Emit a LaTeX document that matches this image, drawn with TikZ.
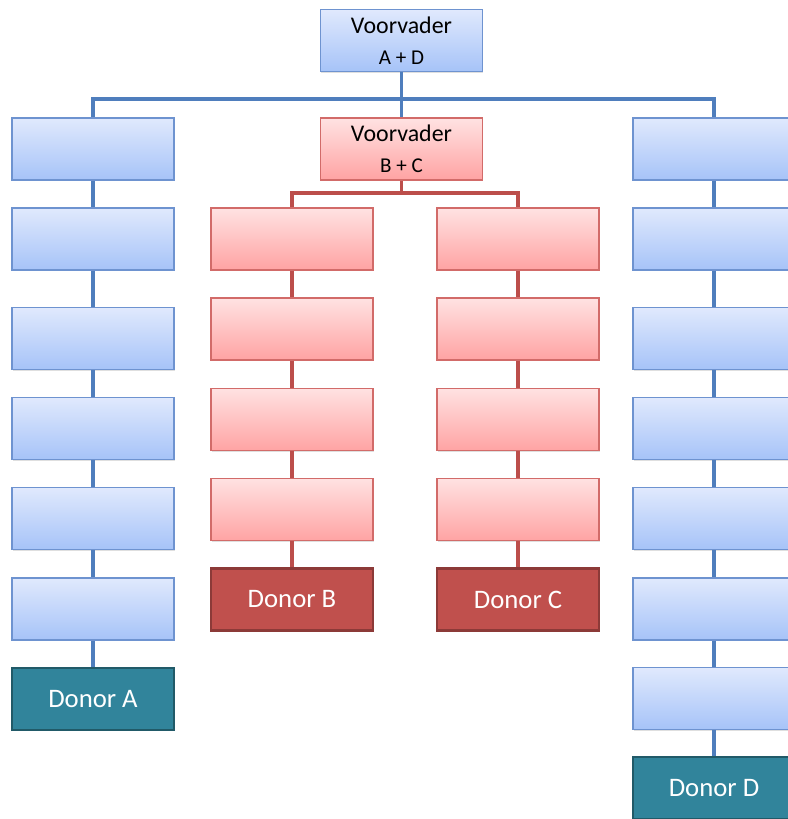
\documentclass[tikz,border=0pt]{standalone}
\usepackage{fontspec}
\setmainfont{Carlito}
\usetikzlibrary{positioning,shadows}

\definecolor{blueline}{HTML}{4F7EBD}
\definecolor{blueedge}{HTML}{6E93D0}
\definecolor{bluetop}{HTML}{E0E9FD}
\definecolor{bluebot}{HTML}{A6C3F8}
\definecolor{redline}{HTML}{BC4E4B}
\definecolor{rededge}{HTML}{D26B69}
\definecolor{redtop}{HTML}{FFE2E2}
\definecolor{redbot}{HTML}{FFA3A3}
\definecolor{donorred}{HTML}{C0504D}
\definecolor{donorrededge}{HTML}{8C3A38}
\definecolor{donorteal}{HTML}{31849B}
\definecolor{donortealedge}{HTML}{215A68}

\begin{document}
\begin{tikzpicture}[x=0.025cm, y=-0.025cm,
  every node/.style={align=center, inner sep=0pt, minimum width=4.05cm, minimum height=1.55cm,
    drop shadow={opacity=0.25, shadow xshift=0.6pt, shadow yshift=-0.8pt}},
  bluebox/.style={draw=blueedge, line width=1.3pt, top color=bluetop, bottom color=bluebot},
  redbox/.style={draw=rededge, line width=1.3pt, top color=redtop, bottom color=redbot},
  donorB/.style={draw=donorrededge, line width=1.5pt, fill=donorred, text=white, font=\fontsize{19}{22}\selectfont},
  donorT/.style={draw=donortealedge, line width=1.5pt, fill=donorteal, text=white, font=\fontsize{19}{22}\selectfont},
  blink/.style={draw=blueline, line width=2.4pt},
  rlink/.style={draw=redline, line width=2.4pt}]
  \useasboundingbox (0,0) rectangle (787,819);

  % Ancestors
  \node[bluebox] (ad) at (401.5,40.5) {\fontsize{17}{20}\selectfont Voorvader\\[10pt]\fontsize{15}{18}\selectfont A + D};
  \node[redbox]  (bc) at (401.5,149)  {\fontsize{17}{20}\selectfont Voorvader\\[10pt]\fontsize{15}{18}\selectfont B + C};

  % Line to donor A
  \node[bluebox] (a1) at (93,149)   {};
  \node[bluebox] (a2) at (93,239)   {};
  \node[bluebox] (a3) at (93,338.5) {};
  \node[bluebox] (a4) at (93,428.5) {};
  \node[bluebox] (a5) at (93,518.5) {};
  \node[bluebox] (a6) at (93,609)   {};
  \node[donorT]  (donA) at (93,699) {Donor A};

  % Line to donor B
  \node[redbox] (b1) at (292,239)   {};
  \node[redbox] (b2) at (292,329)   {};
  \node[redbox] (b3) at (292,419.5) {};
  \node[redbox] (b4) at (292,509.5) {};
  \node[donorB] (donB) at (292,599.5) {Donor B};

  % Line to donor C
  \node[redbox] (c1) at (518,239)   {};
  \node[redbox] (c2) at (518,329)   {};
  \node[redbox] (c3) at (518,419.5) {};
  \node[redbox] (c4) at (518,509.5) {};
  \node[donorB] (donC) at (518,599.5) {Donor C};

  % Line to donor D
  \node[bluebox] (d1) at (714,149)   {};
  \node[bluebox] (d2) at (714,239)   {};
  \node[bluebox] (d3) at (714,338.5) {};
  \node[bluebox] (d4) at (714,428.5) {};
  \node[bluebox] (d5) at (714,518.5) {};
  \node[bluebox] (d6) at (714,609)   {};
  \node[bluebox] (d7) at (714,698.5) {};
  \node[donorT]  (donD) at (714,788) {Donor D};

  % Connectors
  \coordinate (busAD) at (401.5,99);
  \coordinate (busBC) at (401.5,193);
  \draw[blink] (ad) -- (bc);
  \draw[blink] (a1) |- (busAD) -| (d1);
  \draw[rlink] (bc) -- (busBC);
  \draw[rlink] (b1) |- (busBC) -| (c1);
  \draw[blink] (a1) -- (a2) -- (a3) -- (a4) -- (a5) -- (a6) -- (donA);
  \draw[rlink] (b1) -- (b2) -- (b3) -- (b4) -- (donB);
  \draw[rlink] (c1) -- (c2) -- (c3) -- (c4) -- (donC);
  \draw[blink] (d1) -- (d2) -- (d3) -- (d4) -- (d5) -- (d6) -- (d7) -- (donD);
\end{tikzpicture}
\end{document}
